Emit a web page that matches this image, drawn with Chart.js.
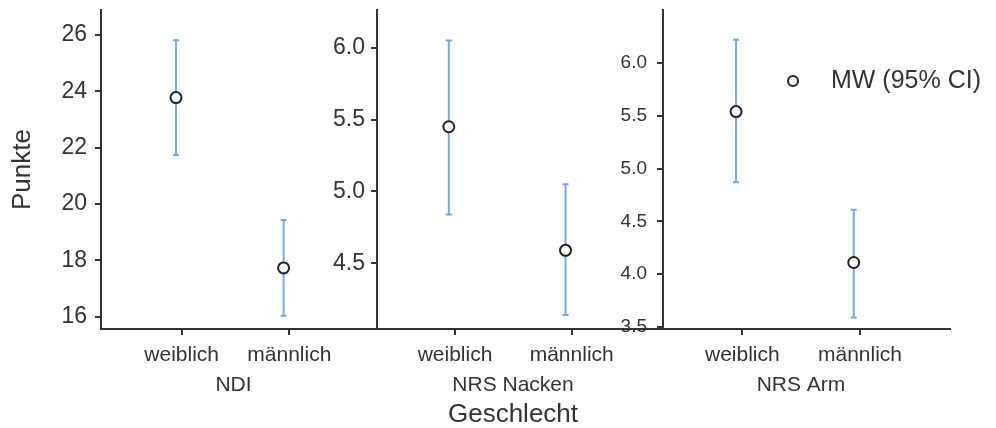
<!DOCTYPE html>
<html><head><meta charset="utf-8">
<script src="https://cdn.jsdelivr.net/npm/chart.js@4.4.1/dist/chart.umd.min.js"></script>
<style>
html,body{margin:0;padding:0;background:#fff;}
#wrap{position:relative;width:996px;height:428px;overflow:hidden;background:#fff;}
canvas{position:absolute;top:0;}
</style></head><body>
<div id="wrap">
<canvas id="c1" width="467" height="428" style="left:0px"></canvas>
<canvas id="c2" width="386" height="428" style="left:320px"></canvas>
<canvas id="c3" width="382" height="428" style="left:610px"></canvas>
</div>
<script>
// ---- data ----
const categories = ['weiblich', 'männlich'];
const panelTitles = ['NDI', 'NRS Nacken', 'NRS Arm'];
const xAxisTitle = 'Geschlecht';
const yAxisTitle = 'Punkte';
const legendLabel = 'MW (95% CI)';

const ndiMean = [23.78, 17.73];
const ndiLower = [21.74, 16.03];
const ndiUpper = [25.82, 19.43];

const nackenMean = [5.45, 4.59];
const nackenLower = [4.84, 4.14];
const nackenUpper = [6.05, 5.05];

const armMean = [5.54, 4.11];
const armLower = [4.87, 3.59];
const armUpper = [6.22, 4.61];

const ndiTicks = [16, 18, 20, 22, 24, 26];
const nackenTicks = [4.5, 5.0, 5.5, 6.0];
const armTicks = [3.5, 4.0, 4.5, 5.0, 5.5, 6.0];
const categoryTicks = [1, 2];

// ---- style ----
const TEXT = '#333333';
const AXIS = '#333333';
const BAR = '#78a6ec';
const DODGE = -0.053;
Chart.defaults.font.family = "'Liberation Sans', Arial, sans-serif";

const errorBarPlugin = {
  id: 'errorBars',
  beforeDatasetsDraw(chart, args, opts) {
    if (!opts.lower) return;
    const {ctx} = chart;
    const y = chart.scales.y;
    const meta = chart.getDatasetMeta(0);
    ctx.save();
    ctx.strokeStyle = opts.color;
    ctx.lineWidth = opts.width;
    meta.data.forEach((pt, i) => {
      const px = pt.x;
      const yl = y.getPixelForValue(opts.lower[i]);
      const yu = y.getPixelForValue(opts.upper[i]);
      ctx.beginPath();
      ctx.moveTo(px, yl); ctx.lineTo(px, yu);
      ctx.moveTo(px - opts.cap, yl); ctx.lineTo(px + opts.cap, yl);
      ctx.moveTo(px - opts.cap, yu); ctx.lineTo(px + opts.cap, yu);
      ctx.stroke();
    });
    ctx.restore();
  }
};

const pointLegendPlugin = {
  id: 'pointLegend',
  afterDraw(chart, args, opts) {
    if (!opts.display) return;
    const {ctx, chartArea} = chart;
    const ds = chart.data.datasets[0];
    const cx = chartArea.left + opts.dx, cy = chartArea.top + opts.dy;
    ctx.save();
    ctx.beginPath();
    ctx.arc(cx, cy, opts.radius, 0, Math.PI * 2);
    ctx.fillStyle = ds.pointBackgroundColor; ctx.fill();
    ctx.lineWidth = ds.pointBorderWidth; ctx.strokeStyle = ds.pointBorderColor; ctx.stroke();
    ctx.font = opts.size + "px 'Liberation Sans', Arial, sans-serif";
    ctx.fillStyle = opts.color;
    ctx.textBaseline = 'middle';
    ctx.textAlign = 'left';
    ctx.fillText(ds.label, cx + opts.gap, cy);
    ctx.restore();
  }
};

function makePanel(id, p) {
  const pts = p.mean.map((m, i) => ({x: categoryTicks[i] + DODGE, y: m}));
  const plugins = {
    legend: {display: false},
    tooltip: {enabled: false},
    title: p.title,
    errorBars: {lower: p.lower, upper: p.upper, color: BAR, width: 2, cap: 3},
    pointLegend: p.legend || {display: false}
  };
  if (p.subtitle) plugins.subtitle = p.subtitle;
  return new Chart(document.getElementById(id), {
    type: 'scatter',
    data: {datasets: [{
      label: legendLabel, data: pts,
      pointRadius: 5.5, pointHoverRadius: 5.5, pointBorderWidth: 2,
      pointBackgroundColor: '#ffffff', pointBorderColor: '#222222'
    }]},
    options: {
      responsive: false, animation: false, devicePixelRatio: 1,
      events: [],
      layout: {padding: {top: 10, bottom: 0, left: 0, right: 0}},
      plugins,
      scales: {
        x: {
          type: 'linear', min: p.xMin, max: p.xMax,
          afterBuildTicks: s => { s.ticks = categoryTicks.map(v => ({value: v})); },
          afterFit: s => { s.height = 40; s.paddingLeft = 0; s.paddingRight = 0; },
          ticks: {callback: (v, i) => categories[i], font: {size: 21}, color: TEXT, padding: 8, maxRotation: 0, autoSkip: false},
          grid: {display: true, drawOnChartArea: false, drawTicks: true, tickLength: 6, color: AXIS, lineWidth: 2},
          border: {display: true, color: AXIS, width: 2}
        },
        y: {
          type: 'linear', min: p.yMin, max: p.yMax,
          afterBuildTicks: s => { s.ticks = p.ticks.map(v => ({value: v})); },
          afterFit: s => { s.width = p.yW; s.paddingTop = 0; s.paddingBottom = 0; },
          ticks: {callback: v => p.fmt(v), font: {size: p.tickSize}, color: TEXT, padding: p.tickPad, autoSkip: false},
          grid: {display: true, drawOnChartArea: false, drawTicks: true, tickLength: 6, color: AXIS, lineWidth: 2},
          border: {display: true, color: AXIS, width: 2},
          title: p.yTitle || {display: false}
        },
        spacer: {
          type: 'linear', position: 'right', display: false,
          afterFit: s => { s.width = p.rW; s.paddingTop = 0; s.paddingBottom = 0; }
        }
      }
    },
    plugins: [errorBarPlugin, pointLegendPlugin]
  });
}

const panelTitleFont = {size: 21, weight: 'normal', lineHeight: 1.2};

makePanel('c1', {
  mean: ndiMean, lower: ndiLower, upper: ndiUpper, ticks: ndiTicks,
  fmt: v => String(v), tickSize: 23, tickPad: 8,
  yMin: 15.56, yMax: 26.89, xMin: 0.25, xMax: 2.815,
  yW: 101, rW: 90,
  yTitle: {display: true, text: yAxisTitle, color: TEXT, font: {size: 26}, padding: {top: 7.4, bottom: 0}},
  title: {display: true, text: panelTitles[0], position: 'bottom', color: TEXT, font: panelTitleFont, padding: {top: 3.4, bottom: 30.4}}
});

makePanel('c2', {
  mean: nackenMean, lower: nackenLower, upper: nackenUpper, ticks: nackenTicks,
  fmt: v => v.toFixed(1), tickSize: 23, tickPad: 6,
  yMin: 4.043, yMax: 6.262, xMin: 0.332, xMax: 2.782,
  yW: 57, rW: 43,
  title: {display: true, text: xAxisTitle, position: 'bottom', color: TEXT, font: {size: 26, weight: 'normal', lineHeight: 1}, padding: {top: 0, bottom: 0}},
  subtitle: {display: true, text: panelTitles[1], position: 'bottom', color: TEXT, font: panelTitleFont, padding: {top: 3.4, bottom: 4.4}}
});

makePanel('c3', {
  mean: armMean, lower: armLower, upper: armUpper, ticks: armTicks,
  fmt: v => v.toFixed(1), tickSize: 19, tickPad: 10,
  yMin: 3.48, yMax: 6.503, xMin: 0.326, xMax: 2.765,
  yW: 53, rW: 42,
  title: {display: true, text: panelTitles[2], position: 'bottom', color: TEXT, font: panelTitleFont, padding: {top: 3.4, bottom: 30.4}},
  legend: {display: true, dx: 130, dy: 71, radius: 5, gap: 38, size: 25, color: TEXT}
});
</script>
</body></html>
